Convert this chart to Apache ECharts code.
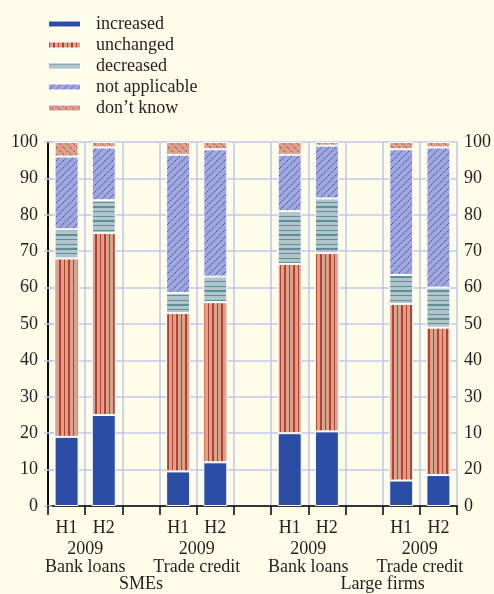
<!DOCTYPE html>
<html lang="en">
<head>
    <meta charset="UTF-8">
    <title>Credit availability 2009</title>
    <script src="https://cdn.jsdelivr.net/npm/echarts@6.0.0/dist/echarts.min.js"></script>
    <style>
        body {
            margin: 0;
            padding: 0;
            background-color: #fefde9;
        }
        #chart-container {
            width: 494px;
            height: 594px;
        }
    </style>
</head>
<body>
    <div id="chart-container"></div>

    <script>
        // slots: two bars per pair, an empty slot between pairs
        const slotLabels = ['H1', 'H2', '', 'H1', 'H2', '', 'H1', 'H2', '', 'H1', 'H2'];
        const pairLabels = ['2009\nBank loans', '2009\nTrade credit', '2009\nBank loans', '2009\nTrade credit'];
        const pairPos = [1, 4, 7, 10];
        const groupLabels = ['SMEs', 'Large firms'];
        const groupPos = [2.5, 9];
        const seriesNames = ['increased', 'unchanged', 'decreased', 'not applicable', 'don\u2019t know'];

        const increased     = [19, 25, '-', 9.5, 12, '-', 20, 20.5, '-', 7, 8.5];
        const unchanged     = [49, 50, '-', 43.5, 44, '-', 46.5, 49, '-', 48.5, 40.5];
        const decreased     = [8, 9, '-', 5.5, 7, '-', 14.5, 15, '-', 8, 11];
        const notApplicable = [20, 14.5, '-', 38, 35, '-', 15.5, 14.5, '-', 34.5, 38.5];
        const dontKnow      = [4, 1.5, '-', 3.5, 2, '-', 3.5, 1, '-', 2, 1.5];

        const leftTicks = ['0', '10', '20', '30', '40', '50', '60', '70', '80', '90', '100'];
        // the right-hand scale in the original has 10 and 20 swapped
        const rightTicks = ['0', '20', '10', '30', '40', '50', '60', '70', '80', '90', '100'];

        const font = 'Liberation Serif';
        const fontSize = 18;
        const ink = '#231f20';
        const gridColor = '#c0c4ea';

        function makePattern(w, h, bg, draw) {
            const c = document.createElement('canvas');
            c.width = w;
            c.height = h;
            const ctx = c.getContext('2d');
            ctx.fillStyle = bg;
            ctx.fillRect(0, 0, w, h);
            draw(ctx);
            return { image: c, repeat: 'repeat' };
        }

        const fills = [
            '#2b4da6',
            makePattern(9, 4, '#d9a38d', function (ctx) {
                ctx.fillStyle = '#b5402f';
                ctx.fillRect(1, 0, 1, 4);
                ctx.fillRect(5, 0, 2, 4);
            }),
            makePattern(4, 14, '#b0c4ca', function (ctx) {
                ctx.fillStyle = '#5f8f9b';
                ctx.fillRect(0, 1, 4, 1);
                ctx.fillRect(0, 6, 4, 1);
                ctx.fillRect(0, 10, 4, 2);
            }),
            makePattern(7, 7, '#a0a7dd', function (ctx) {
                ctx.fillStyle = '#4257b6';
                for (let i = 0; i < 7; i++) {
                    if (i % 2 === 0) ctx.fillRect(i, 6 - i, 1, 1);
                }
                ctx.fillStyle = '#6f7cc8';
                for (let i = 0; i < 7; i++) {
                    if (i % 2 === 1) ctx.fillRect(i, 6 - i, 1, 1);
                }
            }),
            makePattern(7, 7, '#d9a28c', function (ctx) {
                ctx.fillStyle = '#bb4a3b';
                for (let i = 0; i < 7; i++) {
                    if (i % 3 !== 2) ctx.fillRect(i, i, 1, 1);
                }
            })
        ];

        const values = [increased, unchanged, decreased, notApplicable, dontKnow];

        const chart = echarts.init(document.getElementById('chart-container'));

        const option = {
            backgroundColor: '#fefde9',
            animation: false,
            textStyle: { fontFamily: font, color: ink },
            legend: {
                orient: 'vertical',
                left: 42,
                top: 10,
                itemWidth: 33,
                itemHeight: 7,
                itemGap: 3,
                icon: 'rect',
                data: seriesNames,
                textStyle: {
                    fontFamily: font,
                    fontSize: fontSize,
                    color: ink,
                    padding: [0, 0, 0, 10]
                }
            },
            grid: {
                left: 48,
                right: 33,
                top: 142,
                bottom: 88
            },
            xAxis: [
                {
                    type: 'category',
                    data: slotLabels,
                    axisLine: { lineStyle: { color: '#000', width: 1.5 } },
                    axisTick: { show: true, interval: 0, length: 9, lineStyle: { color: '#000', width: 1.5 } },
                    axisLabel: { interval: 0, margin: 13, fontFamily: font, fontSize: fontSize, color: ink },
                    splitLine: { show: true, interval: 0, lineStyle: { color: gridColor, width: 1.5 } }
                },
                {
                    type: 'value',
                    position: 'bottom',
                    min: 0,
                    max: 11,
                    axisLine: { show: false },
                    axisTick: { show: false },
                    splitLine: { show: false },
                    axisLabel: {
                        customValues: pairPos,
                        margin: 35,
                        fontFamily: font,
                        fontSize: fontSize,
                        lineHeight: 17.5,
                        color: ink,
                        formatter: function (v) {
                            return pairLabels[pairPos.indexOf(v)] || '';
                        }
                    }
                },
                {
                    type: 'value',
                    position: 'bottom',
                    min: 0,
                    max: 11,
                    axisLine: { show: false },
                    axisTick: { show: false },
                    splitLine: { show: false },
                    axisLabel: {
                        customValues: groupPos,
                        margin: 70,
                        fontFamily: font,
                        fontSize: fontSize,
                        lineHeight: 17.5,
                        color: ink,
                        formatter: function (v) {
                            return groupLabels[groupPos.indexOf(v)] || '';
                        }
                    }
                }
            ],
            yAxis: [
                {
                    type: 'value',
                    min: 0,
                    max: 100,
                    interval: 10,
                    axisLine: { show: true, lineStyle: { color: '#000', width: 1.5 } },
                    axisTick: { show: true, length: 4, lineStyle: { color: gridColor, width: 1.5 } },
                    axisLabel: {
                        margin: 10,
                        fontFamily: font,
                        fontSize: fontSize,
                        color: ink,
                        formatter: function (v) { return leftTicks[Math.round(v / 10)]; }
                    },
                    splitLine: { show: true, lineStyle: { color: gridColor, width: 1.5 } }
                },
                {
                    type: 'value',
                    position: 'right',
                    min: 0,
                    max: 100,
                    interval: 10,
                    axisLine: { show: true, lineStyle: { color: '#000', width: 1.5 } },
                    axisTick: { show: true, length: 4, lineStyle: { color: gridColor, width: 1.5 } },
                    axisLabel: {
                        margin: 7,
                        fontFamily: font,
                        fontSize: fontSize,
                        color: ink,
                        formatter: function (v) { return rightTicks[Math.round(v / 10)]; }
                    },
                    splitLine: { show: false }
                }
            ],
            series: seriesNames.map(function (name, i) {
                return {
                    name: name,
                    type: 'bar',
                    stack: 'total',
                    barWidth: 24,
                    xAxisIndex: 0,
                    yAxisIndex: 0,
                    itemStyle: {
                        color: fills[i],
                        borderColor: '#ffffff',
                        borderWidth: 1
                    },
                    data: values[i]
                };
            })
        };

        chart.setOption(option);
    </script>
</body>
</html>
